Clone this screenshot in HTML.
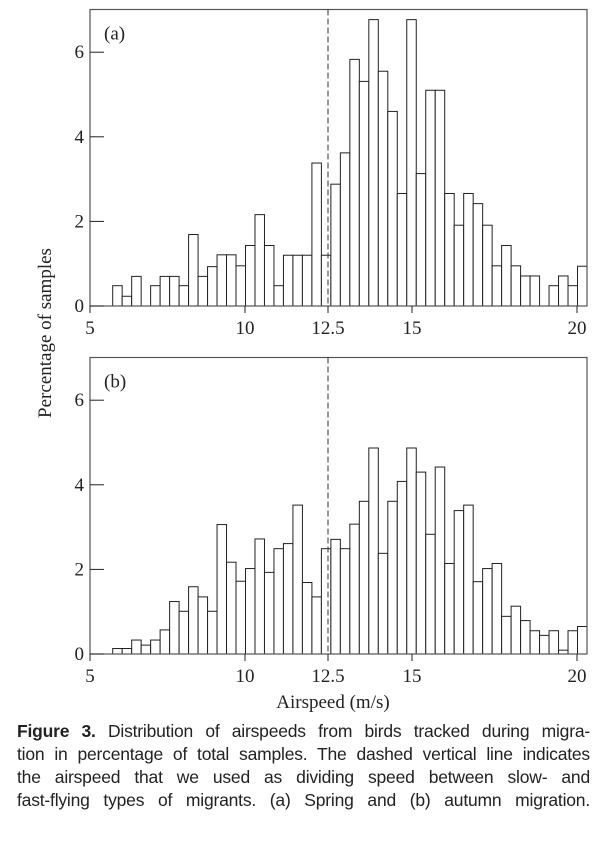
<!DOCTYPE html>
<html><head><meta charset="utf-8"><style>
body{margin:0;background:#fff;width:609px;height:857px;overflow:hidden}
svg text{font-family:"Liberation Serif",serif;fill:#222}
#caption{position:absolute;left:17px;top:720px;width:573px;font-family:"Liberation Sans",sans-serif;font-size:17.5px;line-height:23px;color:#222}
#caption div{text-align:justify;text-align-last:justify;white-space:nowrap;letter-spacing:-0.2px}
</style></head><body>
<svg id="chart" width="609" height="720" style="position:absolute;left:0;top:0"></svg>
<div id="caption">
<div><b>Figure 3.</b> Distribution of airspeeds from birds tracked during migra-</div>
<div>tion in percentage of total samples. The dashed vertical line indicates</div>
<div>the airspeed that we used as dividing speed between slow- and</div>
<div>fast-flying types of migrants. (a) Spring and (b) autumn migration.</div>
</div>
<script>
const springValues=[0.48,0.23,0.7,0,0.48,0.7,0.7,0.48,1.69,0.7,0.93,1.21,1.21,0.95,1.43,2.16,1.43,0.48,1.2,1.2,1.2,3.38,1.2,2.88,3.62,5.83,5.31,6.77,5.55,4.6,2.66,6.77,3.13,5.1,5.1,2.66,1.91,2.66,2.42,1.91,0.95,1.43,0.95,0.71,0.71,0,0.48,0.71,0.48,0.94];
const autumnValues=[0.13,0.13,0.33,0.21,0.33,0.57,1.24,1.01,1.59,1.35,1.01,3.06,2.17,1.72,2.02,2.72,1.93,2.49,2.61,3.52,1.69,1.35,2.49,2.71,2.49,3.07,3.61,4.87,2.38,3.61,4.08,4.87,4.3,2.83,4.42,2.14,3.39,3.52,1.71,2.02,2.14,0.89,1.13,0.79,0.55,0.44,0.55,0.09,0.55,0.65];
const xTicks=[5,10,12.5,15,20];
const xTickLabels=["5","10","12.5","15","20"];
const yTicks=[0,2,4,6];
const divideSpeed=12.5;

const NS="http://www.w3.org/2000/svg";
const svg=document.getElementById('chart');
const L=90,R=587,barStart=112.7,barW=(R-barStart)/50,pxPerUnit=42.3;
const knotV=[5,10,12.5,15,20],knotP=[90,245,328,412,577];
function xScale(v){for(let i=0;i<knotV.length-1;i++){if(v<=knotV[i+1]||i==knotV.length-2){return knotP[i]+(v-knotV[i])/(knotV[i+1]-knotV[i])*(knotP[i+1]-knotP[i]);}}}
function xBin(i){return barStart+i*barW;}
function mk(t,a){const e=document.createElementNS(NS,t);for(const k in a)e.setAttribute(k,a[k]);svg.appendChild(e);return e;}

function panel(values,top,base,label,name){
  const g=mk('g',{});
  
  
  const yS=v=>base-v*pxPerUnit;
  values.forEach((v,i)=>{if(v<=0)return;
    const r=mk('rect',{x:xBin(i),y:yS(v),width:barW,height:base-yS(v),fill:'#fff',stroke:'#222','stroke-width':1});
    
    });
  const f=mk('rect',{x:L,y:top,width:R-L,height:base-top,fill:'none',stroke:'#555','stroke-width':1.2});
  
  
  yTicks.forEach(t=>{
    mk('line',{x1:L,x2:L+14,y1:yS(t),y2:yS(t),stroke:'#222','stroke-width':1});
    const tx=mk('text',{x:L-6,y:yS(t)+6,'font-size':19,'text-anchor':'end'});tx.textContent=t;
    
    
  });
  xTicks.forEach((t,i)=>{
    mk('line',{x1:xScale(t),x2:xScale(t),y1:base,y2:base+7,stroke:'#222','stroke-width':1});
    const tx=mk('text',{x:xScale(t),y:base+28,'font-size':19,'text-anchor':'middle'});tx.textContent=xTickLabels[i];
    
    
  });
  const d=mk('line',{x1:xScale(divideSpeed),x2:xScale(divideSpeed),y1:top,y2:base,stroke:'#333','stroke-width':1,'stroke-dasharray':'6,3'});
  
  
  const pl=mk('text',{x:104,y:top+30,'font-size':19});pl.textContent=label;
  
  
}
panel(springValues,9.5,306,'(a)','spring-panel');
panel(autumnValues,357.5,654,'(b)','autumn-panel');
const yl=mk('text',{x:0,y:0,'font-size':19,'text-anchor':'middle',transform:'translate(51,333) rotate(-90)'});yl.textContent='Percentage of samples';


const xl=mk('text',{x:333,y:708,'font-size':19,'text-anchor':'middle'});xl.textContent='Airspeed (m/s)';


</script>
</body></html>
